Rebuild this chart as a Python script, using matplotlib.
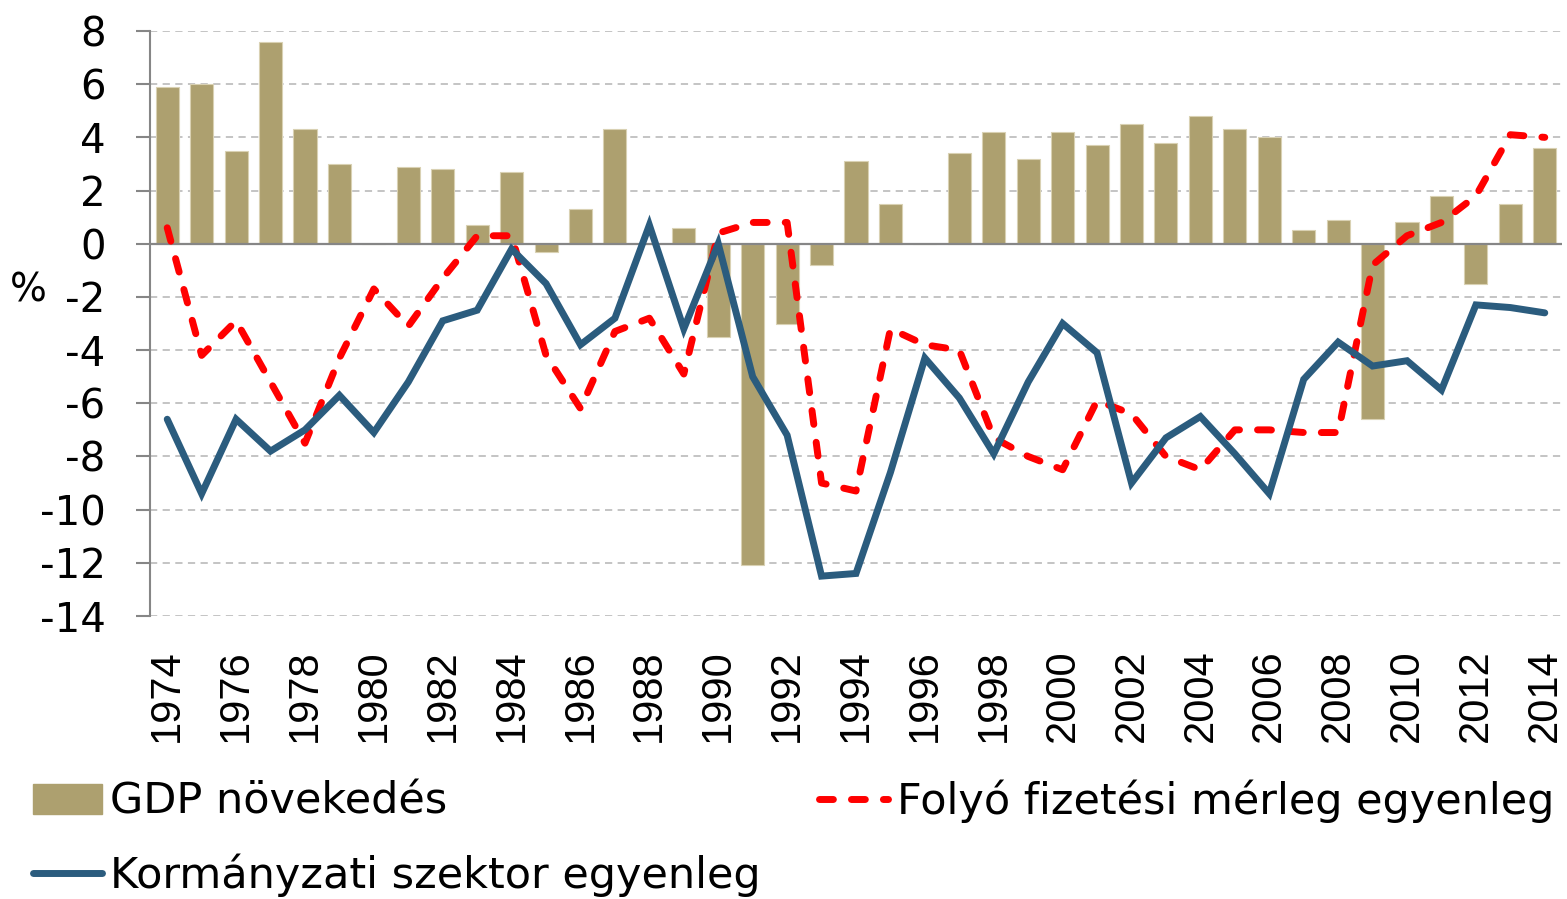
import matplotlib
matplotlib.use("Agg")
import matplotlib.pyplot as plt
from matplotlib.lines import Line2D
from matplotlib.patches import Patch
import numpy as np

years = list(range(1974, 2015))
gdp = [5.9, 6.0, 3.5, 7.6, 4.3, 3.0, 0.0, 2.9, 2.8, 0.7, 2.7, -0.3, 1.3, 4.3,
       0.0, 0.6, -3.5, -12.1, -3.0, -0.8, 3.1, 1.5, 0.0, 3.4, 4.2, 3.2, 4.2,
       3.7, 4.5, 3.8, 4.8, 4.3, 4.0, 0.5, 0.9, -6.6, 0.8, 1.8, -1.5, 1.5, 3.6]
current_account = [0.6, -4.2, -2.9, -5.2, -7.5, -4.3, -1.7, -3.1, -1.3, 0.3, 0.3,
                   -4.2, -6.2, -3.3, -2.8, -4.9, 0.4, 0.8, 0.8, -9.0, -9.3, -3.2,
                   -3.8, -4.0, -7.3, -8.0, -8.5, -5.9, -6.4, -8.0, -8.5, -7.0,
                   -7.0, -7.1, -7.1, -0.8, 0.3, 0.8, 1.8, 4.1, 4.0]
government = [-6.6, -9.4, -6.6, -7.8, -7.0, -5.7, -7.1, -5.2, -2.9, -2.5, -0.2,
              -1.5, -3.8, -2.8, 0.7, -3.2, 0.0, -5.0, -7.2, -12.5, -12.4, -8.6,
              -4.3, -5.8, -7.9, -5.2, -3.0, -4.1, -9.0, -7.3, -6.5, -7.9, -9.4,
              -5.1, -3.7, -4.6, -4.4, -5.5, -2.3, -2.4, -2.6]
yticks = list(range(8, -15, -2))
xtick_years = list(range(1974, 2015, 2))

label_gdp = "GDP növekedés"
label_ca = "Folyó fizetési mérleg egyenleg"
label_gov = "Kormányzati szektor egyenleg"

FONT = ['DejaVu Sans']
XFONT = ['Liberation Sans', 'DejaVu Sans']

C_BAR = '#ADA06F'
C_RED = '#FF0000'
C_BLUE = '#2B5C7E'
C_GRAY = '#868686'

fig = plt.figure(figsize=(15.67, 8.99), dpi=100)
ax = fig.add_axes([150/1567, 1-616/899, (1562-150)/1567, (616-31)/899])

x = np.arange(len(years))
ax.bar(x, gdp, width=0.67, color=C_BAR, edgecolor='#D9D1B3', linewidth=0.8, zorder=2)
ax.axhline(0, color=C_GRAY, lw=1.6, zorder=2.5)
ax.plot(x, current_account, color=C_RED, lw=5, dashes=(2.0, 2.6),
        dash_capstyle='round', solid_joinstyle='round', zorder=3)
ax.plot(x, government, color=C_BLUE, lw=5, solid_capstyle='round',
        solid_joinstyle='miter', zorder=4)

ax.set_xlim(-0.5, len(years) - 0.5)
ax.set_ylim(-14, 8)
ax.set_yticks(yticks)
ax.set_yticklabels([str(v) for v in yticks], fontsize=29, family=FONT)
ax.yaxis.grid(True, color='#BFBFBF', linestyle=(0, (4, 3)), lw=1.3, zorder=0)
ax.set_axisbelow(True)

ax.set_xticks([years.index(y) for y in xtick_years])
ax.set_xticklabels([str(y) for y in xtick_years], rotation=90, fontsize=30,
                   family=XFONT)
ax.tick_params(axis='x', length=0, pad=24)
ax.tick_params(axis='y', length=10, width=1.5, color=C_GRAY, pad=22, direction='out')

for s in ['top', 'right', 'bottom']:
    ax.spines[s].set_visible(False)
ax.spines['left'].set_color(C_GRAY)
ax.spines['left'].set_linewidth(1.5)

ax.set_ylabel('%', rotation=0, fontsize=28, family=FONT, va='center', ha='center')
ax.yaxis.set_label_coords(-0.086, 0.557)

handles = [
    Patch(facecolor=C_BAR, edgecolor=C_BAR),
    Line2D([0], [0], color=C_BLUE, lw=5, solid_capstyle='round'),
    Line2D([0], [0], color=C_RED, lw=5, dashes=(2.0, 2.6), dash_capstyle='round'),
]
labels = [label_gdp, label_gov, label_ca]
leg = fig.legend(handles, labels, ncol=2, loc='lower left',
                 bbox_to_anchor=(33/1567, 0.002), frameon=False,
                 prop={'family': FONT, 'size': 31},
                 handlelength=1.6, handletextpad=0.2, columnspacing=1.35,
                 labelspacing=0.72, borderaxespad=0, borderpad=0)

fig.savefig('out.png', dpi=100)
